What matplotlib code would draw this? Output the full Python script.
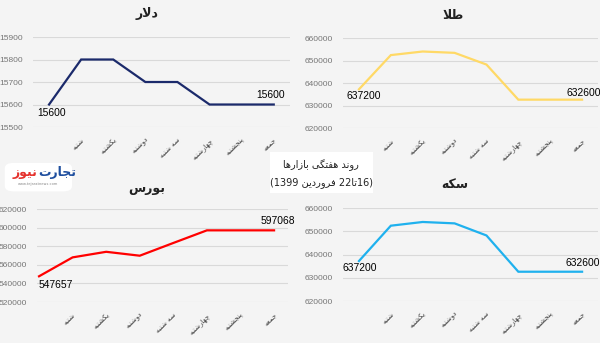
import matplotlib
matplotlib.use('Agg')
import matplotlib.pyplot as plt
from matplotlib.patches import Rectangle, FancyBboxPatch

# data
days = ['', 'شنبه', 'یکشنبه', 'دوشنبه', 'سه شنبه', 'چهارشنبه', 'پنجشنبه', 'جمعه']
dollar = [15600, 15800, 15800, 15700, 15700, 15600, 15600, 15600]
gold = [637200, 652400, 654000, 653400, 648200, 632600, 632600, 632600]
bourse = [547657, 568000, 574000, 569800, 583500, 597068, 597068, 597068]
coin = [637200, 652400, 654000, 653400, 648200, 632600, 632600, 632600]

# persian shaping (no arabic_reshaper here): isolated, final, initial, medial
FORMS = {
    'ا': ('\uFE8D', '\uFE8E', None, None),
    'د': ('\uFEA9', '\uFEAA', None, None),
    'ر': ('\uFEAD', '\uFEAE', None, None),
    'ز': ('\uFEAF', '\uFEB0', None, None),
    'و': ('\uFEED', '\uFEEE', None, None),
    'ب': ('\uFE8F', '\uFE90', '\uFE91', '\uFE92'),
    'ت': ('\uFE95', '\uFE96', '\uFE97', '\uFE98'),
    'ج': ('\uFE9D', '\uFE9E', '\uFE9F', '\uFEA0'),
    'س': ('\uFEB1', '\uFEB2', '\uFEB3', '\uFEB4'),
    'ش': ('\uFEB5', '\uFEB6', '\uFEB7', '\uFEB8'),
    'ط': ('\uFEC1', '\uFEC2', '\uFEC3', '\uFEC4'),
    'ع': ('\uFEC9', '\uFECA', '\uFECB', '\uFECC'),
    'ف': ('\uFED1', '\uFED2', '\uFED3', '\uFED4'),
    'ل': ('\uFEDD', '\uFEDE', '\uFEDF', '\uFEE0'),
    'م': ('\uFEE1', '\uFEE2', '\uFEE3', '\uFEE4'),
    'ن': ('\uFEE5', '\uFEE6', '\uFEE7', '\uFEE8'),
    'ه': ('\uFEE9', '\uFEEA', '\uFEEB', '\uFEEC'),
    'ی': ('\uFBFC', '\uFBFD', '\uFBFE', '\uFBFF'),
    'ک': ('\uFB8E', '\uFB8F', '\uFB90', '\uFB91'),
    'گ': ('\uFB92', '\uFB93', '\uFB94', '\uFB95'),
    'پ': ('\uFB56', '\uFB57', '\uFB58', '\uFB59'),
    'چ': ('\uFB7A', '\uFB7B', '\uFB7C', '\uFB7D'),
}


def fa(text):
    out = []
    i, n = 0, len(text)
    while i < n:
        c = text[i]
        if c not in FORMS:
            out.append(c)
            i += 1
            continue
        prev = text[i - 1] if i > 0 else None
        join_prev = prev in FORMS and FORMS[prev][2] is not None
        if c == 'ل' and i + 1 < n and text[i + 1] == 'ا':
            out.append('\uFEFC' if join_prev else '\uFEFB')
            i += 2
            continue
        nxt = text[i + 1] if i + 1 < n else None
        join_next = FORMS[c][2] is not None and nxt in FORMS
        iso, fin, ini, med = FORMS[c]
        if join_prev and join_next:
            g = med
        elif join_prev:
            g = fin
        elif join_next:
            g = ini
        else:
            g = iso
        out.append(g)
        i += 1
    return ''.join(reversed(out))


bg = '#f4f4f4'
fig = plt.figure(figsize=(6, 3.43), dpi=100, facecolor=bg)

panels = [
    # title, values, color, rect, ylim, yticks, xlim, start offset, end offset, start ha
    ('دلار', dollar, '#1b2a6b', [0.055, 0.6297, 0.428, 0.2624], (15500, 15900),
     range(15500, 15901, 100), (-0.5, 7.5), (1.5, -6), (-2, 7), 'center'),
    ('طلا', gold, '#ffd966', [0.5717, 0.6268, 0.425, 0.2624], (620000, 660000),
     range(620000, 660001, 10000), (-0.5, 7.5), (3.5, -5), (1.5, 5), 'center'),
    ('بورس', bourse, '#ff0000', [0.0617, 0.1195, 0.418, 0.2711], (520000, 620000),
     range(520000, 620001, 20000), (-0.06, 7.41), (0, -6), (3, 6.5), 'left'),
    ('سکه', coin, '#1fb1ee', [0.5717, 0.1224, 0.425, 0.2711], (620000, 660000),
     range(620000, 660001, 10000), (-0.5, 7.5), (0.5, -5), (0.5, 6), 'center'),
]
title_pos = [(0.245, 0.962), (0.755, 0.956), (0.245, 0.45), (0.758, 0.461)]

for (title, vals, col, rect, ylim, yt, xlim, so, eo, sha), tp in zip(panels, title_pos):
    ax = fig.add_axes(rect)
    ax.set_facecolor(bg)
    x = list(range(len(vals)))
    ax.plot(x, vals, color=col, lw=1.6, solid_joinstyle='miter', clip_on=False)
    ax.set_xlim(*xlim)
    ax.set_ylim(*ylim)
    ax.set_yticks(list(yt))
    ax.set_yticklabels([str(v) for v in yt], fontsize=6, color='#767676',
                       family='Liberation Sans')
    ax.set_xticks(x)
    ax.set_xticklabels([fa(d) for d in days], rotation=45, ha='right', va='top',
                       rotation_mode='anchor', fontsize=5, color='#3a3a3a',
                       family='DejaVu Sans')
    ax.tick_params(length=0, pad=7)
    ax.grid(axis='y', color='#d9d9d9', lw=0.8)
    ax.set_axisbelow(True)
    for s in ax.spines.values():
        s.set_visible(False)
    ax.annotate(str(vals[0]), (0, vals[0]), xytext=so, textcoords='offset points',
                ha=sha, va='center', fontsize=7.4, family='Liberation Sans', color='black',
                annotation_clip=False)
    ax.annotate(str(vals[-1]), (len(vals) - 1, vals[-1]), xytext=eo,
                textcoords='offset points', ha='center', va='center', fontsize=7.4,
                family='Liberation Sans', color='black', annotation_clip=False)
    fig.text(tp[0], tp[1], fa(title), ha='center', va='center', fontsize=9,
             fontweight='bold', family='DejaVu Sans', color='#222222')

# centre caption box
fig.patches.append(Rectangle((0.45, 0.4373), 0.1717, 0.1195, transform=fig.transFigure,
                             facecolor='white', edgecolor='none', zorder=5))
fig.text(0.535, 0.52, fa('روند هفتگی بازارها'), ha='center', va='center',
         fontsize=7, family='DejaVu Sans', color='#222222', zorder=6)
line2 = '(1399 ' + fa('فروردین') + ' 22' + fa('تا') + '16)'
fig.text(0.535, 0.469, line2, ha='center', va='center', fontsize=7,
         family='DejaVu Sans', color='#222222', zorder=6)

# logo
fig.patches.append(FancyBboxPatch((0.012, 0.446), 0.104, 0.075,
                                  boxstyle='round,pad=0.004,rounding_size=0.015',
                                  transform=fig.transFigure, facecolor='white',
                                  edgecolor='none', zorder=5))
fig.text(0.062, 0.497, fa('نیوز'), ha='right', va='center', fontsize=9,
         fontweight='bold', family='DejaVu Sans', color='#e5322d', zorder=6)
fig.text(0.063, 0.497, fa('تجارت'), ha='left', va='center', fontsize=9,
         fontweight='bold', family='DejaVu Sans', color='#1f4f9f', zorder=6)
fig.text(0.064, 0.463, 'www.tejaratnews.com', ha='center', va='center', fontsize=2.6,
         color='#888888', zorder=6)

fig.savefig('out.png', dpi=100, facecolor=bg)
